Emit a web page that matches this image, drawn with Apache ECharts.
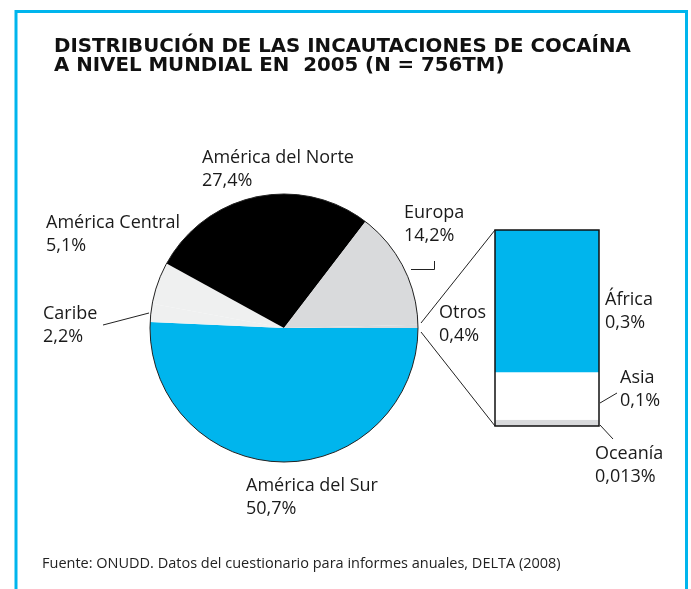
<!DOCTYPE html>
<html>
<head>
<meta charset="utf-8">
<script src="https://cdn.jsdelivr.net/npm/echarts@6/dist/echarts.min.js"></script>
<style>
html, body { margin: 0; padding: 0; background: #fff; }
#grafico { width: 691px; height: 589px; }
</style>
</head>
<body>
<div id="grafico"></div>
<script>
// datos (porcentajes del total mundial, N = 756 TM)
var regiones = ['América del Sur', 'Caribe', 'América Central', 'América del Norte', 'Europa', 'Otros'];
var porcentajes = [50.7, 2.2, 5.1, 27.4, 14.2, 0.4];
var otrosRegiones = ['Oceanía', 'Asia', 'África'];
var otrosPorcentajes = [0.013, 0.1, 0.3];

var colores = ['#00b5ed', '#eff0f0', '#eff0f0', '#000000', '#d9dadc', '#d9dadc'];
var coloresOtros = ['#d9dadc', '#ffffff', '#00b5ed'];

var fuente = 'Open Sans';
var totalOtros = otrosPorcentajes.reduce(function (a, b) { return a + b; }, 0);

function fmt(v) {
	return String(v).replace('.', ',') + '%';
}

// posicion de cada etiqueta (esquina superior izquierda)
var posEtiquetas = {
	'América del Sur': [246, 474],
	'Caribe': [43, 302],
	'América Central': [46, 211],
	'América del Norte': [202, 146],
	'Europa': [404, 201],
	'Otros': [439, 301],
	'África': [605, 288],
	'Asia': [620, 366],
	'Oceanía': [595, 442]
};

function colocar(nombre) {
	var p = posEtiquetas[nombre];
	return { x: p[0], y: p[1], align: 'left', verticalAlign: 'top' };
}

var estiloEtiqueta = {
	color: '#1a1a1a',
	fontFamily: fuente,
	fontSize: 18,
	lineHeight: 23.5
};

var grafico = echarts.init(document.getElementById('grafico'));

var seriesOtros = otrosRegiones.map(function (nombre, i) {
	return {
		name: nombre,
		type: 'bar',
		stack: 'otros',
		barWidth: '100%',
		silent: true,
		itemStyle: { color: coloresOtros[i] },
		label: Object.assign({
			show: true,
			position: 'right',
			formatter: function (p) { return p.seriesName + '\n' + fmt(p.value); }
		}, estiloEtiqueta),
		labelLayout: function () { return colocar(nombre); },
		data: [otrosPorcentajes[i]]
	};
});

var option = {
	animation: false,
	backgroundColor: '#ffffff',
	title: [{
		text: 'DISTRIBUCIÓN DE LAS INCAUTACIONES DE COCAÍNA\nA NIVEL MUNDIAL EN  2005 (N = 756TM)',
		left: 49,
		top: 32,
		textStyle: {
			fontFamily: 'DejaVu Sans',
			fontWeight: 'bold',
			fontSize: 19.8,
			lineHeight: 19.5,
			color: '#111'
		}
	}, {
		text: 'Fuente: ONUDD. Datos del cuestionario para informes anuales, DELTA (2008)',
		left: 37,
		top: 551,
		textStyle: {
			fontFamily: fuente,
			fontWeight: 'normal',
			fontSize: 14.5,
			color: '#222'
		}
	}],
	grid: {
		left: 495,
		top: 230,
		width: 104,
		height: 196,
		show: true,
		z: 5,
		backgroundColor: 'transparent',
		borderColor: '#111',
		borderWidth: 1.5
	},
	xAxis: { type: 'category', data: ['Otros'], show: false },
	yAxis: { type: 'value', min: 0, max: totalOtros, show: false },
	series: [{
		name: 'Regiones',
		type: 'pie',
		center: [284, 328],
		radius: 134,
		startAngle: 0,
		clockwise: true,
		silent: true,
		avoidLabelOverlap: false,
		label: Object.assign({
			show: true,
			formatter: function (p) { return p.name + '\n' + fmt(p.value); }
		}, estiloEtiqueta),
		labelLine: { show: false },
		labelLayout: function (p) { return colocar(regiones[p.dataIndex]); },
		data: regiones.map(function (n, i) {
			return { name: n, value: porcentajes[i], itemStyle: { color: colores[i] } };
		})
	}, {
		// contorno del circulo
		type: 'pie',
		center: [284, 328],
		radius: 134,
		silent: true,
		z: 3,
		label: { show: false },
		labelLine: { show: false },
		itemStyle: { color: 'transparent', borderColor: '#222', borderWidth: 1 },
		data: [{ value: 1, name: 'contorno' }]
	}].concat(seriesOtros),
	graphic: [{
		type: 'rect',
		silent: true,
		shape: { x: 16, y: 11.5, width: 670.5, height: 700 },
		style: { fill: 'none', stroke: '#00b5ed', lineWidth: 3 }
	}, {
		// lineas guia
		type: 'polyline', silent: true,
		shape: { points: [[411, 269.5], [434.5, 269.5], [434.5, 261]] },
		style: { stroke: '#222', lineWidth: 1, fill: 'none' }
	}, {
		type: 'line', silent: true,
		shape: { x1: 103, y1: 325, x2: 149, y2: 313 },
		style: { stroke: '#222', lineWidth: 1 }
	}, {
		type: 'line', silent: true,
		shape: { x1: 600, y1: 403, x2: 617, y2: 393 },
		style: { stroke: '#222', lineWidth: 1 }
	}, {
		type: 'line', silent: true,
		shape: { x1: 600, y1: 425, x2: 613, y2: 439 },
		style: { stroke: '#222', lineWidth: 1 }
	}, {
		// union del sector "Otros" con la barra
		type: 'line', silent: true,
		shape: { x1: 421, y1: 323, x2: 495, y2: 230 },
		style: { stroke: '#222', lineWidth: 1 }
	}, {
		type: 'line', silent: true,
		shape: { x1: 421, y1: 332, x2: 495, y2: 426 },
		style: { stroke: '#222', lineWidth: 1 }
	}]
};

grafico.setOption(option);
window.addEventListener('resize', function () {
	grafico.resize();
});
</script>
</body>
</html>
